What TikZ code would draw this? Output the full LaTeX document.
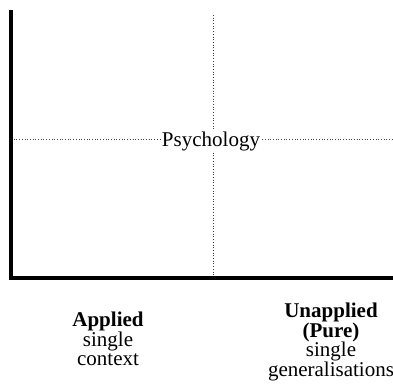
\documentclass[tikz,border=0pt]{standalone}
\usepackage{fontspec}
\setmainfont{Liberation Serif}
\usepackage{xcolor}
\usepackage{tikz}
\usetikzlibrary{positioning}

\begin{document}
\begin{tikzpicture}[
    x=1pt, y=-1pt,
    axis/.style={line width=3.2pt, line cap=rect},
    guide/.style={dotted, line width=0.7pt, black!75},
    label/.style={align=center, inner sep=0pt, font=\fontsize{21}{19.6}\selectfont},
    field/.style={inner sep=0pt, fill=white, font=\fontsize{21}{24}\selectfont}
]
\useasboundingbox (0,0) rectangle (393,385);

% Axes
\coordinate (top) at (11,12);
\coordinate (origin) at (11,278);
\coordinate (right) at (393,278);
\coordinate (gtop) at (213.5,15);
\coordinate (gbot) at (213.5,278);
\coordinate (gleft) at (11,139);
\coordinate (gright) at (393,139);

% Dotted guides
\draw[guide] (gtop) -- (gbot);
\draw[guide] (gleft) -- (gright);

\draw[axis] (top) -- (origin) -- (right);

% Field label
\node[field, anchor=base] (psych) at (211,146) {Psychology};

% Axis labels
\node[label, anchor=north] (applied) at (108,312) {\textbf{Applied}\\single\\context};
\node[label, anchor=north] (pure) at (331,303) {\textbf{Unapplied}\\\textbf{(Pure)}\\single\\generalisations};

\end{tikzpicture}
\end{document}
